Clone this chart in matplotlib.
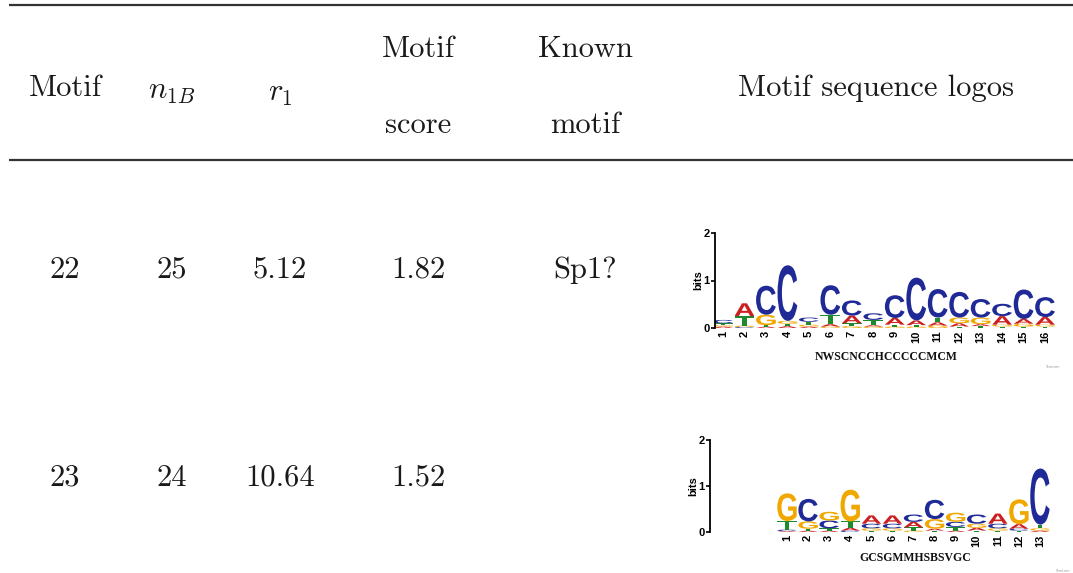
import matplotlib
matplotlib.use("Agg")
import matplotlib.pyplot as plt
from matplotlib.font_manager import FontProperties
from matplotlib.textpath import TextPath
from matplotlib.patches import PathPatch
from matplotlib.transforms import Affine2D

plt.rcParams["mathtext.fontset"] = "cm"
plt.rcParams["axes.unicode_minus"] = False

# =========================
# Data
# =========================
header_simple = ["Motif", r"$n_{1B}$", r"$r_1$"]
header_two_line = [("Motif", "score"), ("Known", "motif")]
header_logo = "Motif sequence logos"

motif_ids = ["22", "23"]
n1b_values = ["25", "24"]
r1_values = ["5.12", "10.64"]
motif_scores = ["1.82", "1.52"]
known_motifs = ["Sp1?", ""]
consensus = ["NWSCNCCHCCCCCMCM", "GCSGMMHSBSVGC"]

# letter stacks per position, bottom -> top, heights in bits
logo1_stacks = [
    [("A", 0.03), ("G", 0.03), ("T", 0.04), ("C", 0.07)],
    [("C", 0.02), ("G", 0.03), ("T", 0.20), ("A", 0.27)],
    [("A", 0.03), ("T", 0.03), ("G", 0.22), ("C", 0.61)],
    [("A", 0.04), ("T", 0.05), ("G", 0.06), ("C", 1.17)],
    [("A", 0.03), ("G", 0.04), ("T", 0.06), ("C", 0.09)],
    [("G", 0.03), ("A", 0.05), ("T", 0.20), ("C", 0.62)],
    [("G", 0.04), ("T", 0.06), ("A", 0.16), ("C", 0.32)],
    [("G", 0.03), ("A", 0.03), ("T", 0.11), ("C", 0.14)],
    [("G", 0.03), ("T", 0.04), ("A", 0.14), ("C", 0.48)],
    [("G", 0.03), ("T", 0.03), ("A", 0.10), ("C", 0.90)],
    [("G", 0.05), ("A", 0.07), ("T", 0.10), ("C", 0.60)],
    [("T", 0.03), ("A", 0.07), ("G", 0.12), ("C", 0.54)],
    [("T", 0.04), ("A", 0.04), ("G", 0.14), ("C", 0.39)],
    [("T", 0.03), ("G", 0.04), ("A", 0.18), ("C", 0.26)],
    [("T", 0.03), ("G", 0.06), ("A", 0.10), ("C", 0.62)],
    [("T", 0.03), ("G", 0.04), ("A", 0.16), ("C", 0.42)],
]

logo2_stacks = [
    [("A", 0.02), ("C", 0.03), ("T", 0.19), ("G", 0.60)],
    [("A", 0.03), ("T", 0.04), ("G", 0.16), ("C", 0.49)],
    [("A", 0.03), ("T", 0.05), ("C", 0.17), ("G", 0.19)],
    [("C", 0.03), ("A", 0.06), ("T", 0.14), ("G", 0.69)],
    [("T", 0.03), ("G", 0.05), ("C", 0.10), ("A", 0.18)],
    [("T", 0.03), ("G", 0.05), ("C", 0.10), ("A", 0.18)],
    [("G", 0.03), ("T", 0.07), ("A", 0.12), ("C", 0.16)],
    [("T", 0.03), ("A", 0.04), ("G", 0.21), ("C", 0.42)],
    [("A", 0.03), ("T", 0.08), ("C", 0.11), ("G", 0.20)],
    [("T", 0.03), ("A", 0.06), ("G", 0.09), ("C", 0.20)],
    [("T", 0.03), ("G", 0.05), ("C", 0.10), ("A", 0.22)],
    [("T", 0.03), ("C", 0.04), ("A", 0.10), ("G", 0.54)],
    [("A", 0.03), ("G", 0.05), ("T", 0.08), ("C", 1.22)],
]

base_colors = {"A": "#cc1f1f", "C": "#1f2a96", "G": "#f0a800", "T": "#1d8a2e"}

# =========================
# Figure / table layer (pixel coords)
# =========================
W, H = 1073, 573
fig = plt.figure(figsize=(W / 100, H / 100), dpi=100)
ax = fig.add_axes([0, 0, 1, 1])
ax.set_xlim(0, W)
ax.set_ylim(H, 0)
ax.axis("off")

rule_color = "#333333"
ax.plot([9, W], [5, 5], color=rule_color, lw=1.6, solid_capstyle="butt")
ax.plot([9, W], [160, 160], color=rule_color, lw=1.6, solid_capstyle="butt")

txt = dict(fontsize=22, color="#1a1a1a", ha="center", va="center")
serif = dict(family="cmr10", **txt)

col_x = [65, 172, 280, 418, 585]
ax.text(col_x[0], 88, header_simple[0], **serif)
ax.text(col_x[1], 91, header_simple[1], **txt)
ax.text(col_x[2], 93, header_simple[2], **txt)
for cx, (top, bottom) in zip(col_x[3:], header_two_line):
    ax.text(cx, 49, top, **serif)
    ax.text(cx, 125, bottom, **serif)
ax.text(876, 88, header_logo, **serif)

row_y = [270, 478]
for i, y in enumerate(row_y):
    vals = [motif_ids[i], n1b_values[i], r1_values[i], motif_scores[i], known_motifs[i]]
    for cx, v in zip(col_x, vals):
        if v:
            ax.text(cx, y, v, **serif)

# =========================
# Sequence logos
# =========================
letter_fp = FontProperties(family="Liberation Sans", weight="bold")


def draw_letter(lax, ch, x, y0, h, color, w=0.92):
    tp = TextPath((0, 0), ch, size=1, prop=letter_fp)
    bb = tp.get_extents()
    tr = (Affine2D().translate(-bb.x0, -bb.y0)
          .scale(w / bb.width, h / bb.height)
          .translate(x - w / 2, y0))
    lax.add_patch(PathPatch(tr.transform_path(tp), fc=color, ec="none", lw=0))


def draw_logo(stacks, spine_px, first_px, step_px, top_px, zero_px, right_px, seq, seq_y):
    left = spine_px / W
    bottom = 1 - zero_px / H
    width = (right_px - spine_px) / W
    height = (zero_px - top_px) / H
    lax = fig.add_axes([left, bottom, width, height])
    x0 = 1 - (first_px - spine_px) / step_px
    x1 = x0 + (right_px - spine_px) / step_px
    lax.set_xlim(x0, x1)
    lax.set_ylim(0, 2)
    lax.patch.set_alpha(0)
    for s in ["top", "right", "bottom"]:
        lax.spines[s].set_visible(False)
    lax.spines["left"].set_linewidth(1.3)
    lax.set_yticks([0, 1, 2])
    lax.set_yticklabels(["0", "1", "2"], fontsize=8, fontweight="bold",
                        family="Liberation Sans")
    lax.tick_params(axis="y", length=3, width=1.2, pad=1)
    positions = list(range(1, len(stacks) + 1))
    lax.set_xticks(positions)
    lax.set_xticklabels([str(p) for p in positions], rotation=90, fontsize=8,
                        fontweight="bold", family="Liberation Sans")
    lax.tick_params(axis="x", length=0, pad=2)
    lax.set_ylabel("bits", fontsize=8, fontweight="bold", family="Liberation Sans",
                   labelpad=0)
    for p, stack in zip(positions, stacks):
        y = 0.0
        for ch, h in stack:
            draw_letter(lax, ch, p, y, h, base_colors[ch])
            y += h
    cx = (first_px + first_px + step_px * (len(stacks) - 1)) / 2
    ax.text(cx + 2, seq_y, seq, family="Liberation Serif", fontweight="bold",
            fontsize=8.5, ha="center", va="center", color="#111111")
    return lax


draw_logo(logo1_stacks, 715, 723, 21.47, 233, 328, 1062, consensus[0], 357)
draw_logo(logo2_stacks, 710, 787, 21.08, 440, 532, 1062, consensus[1], 558)

ax.text(1052, 367, "Tomtom", fontsize=2.5, color="#999999", ha="center", va="center")
ax.text(1062, 571, "Tomtom", fontsize=2.5, color="#999999", ha="center", va="center")

fig.savefig("out.png", dpi=100)
